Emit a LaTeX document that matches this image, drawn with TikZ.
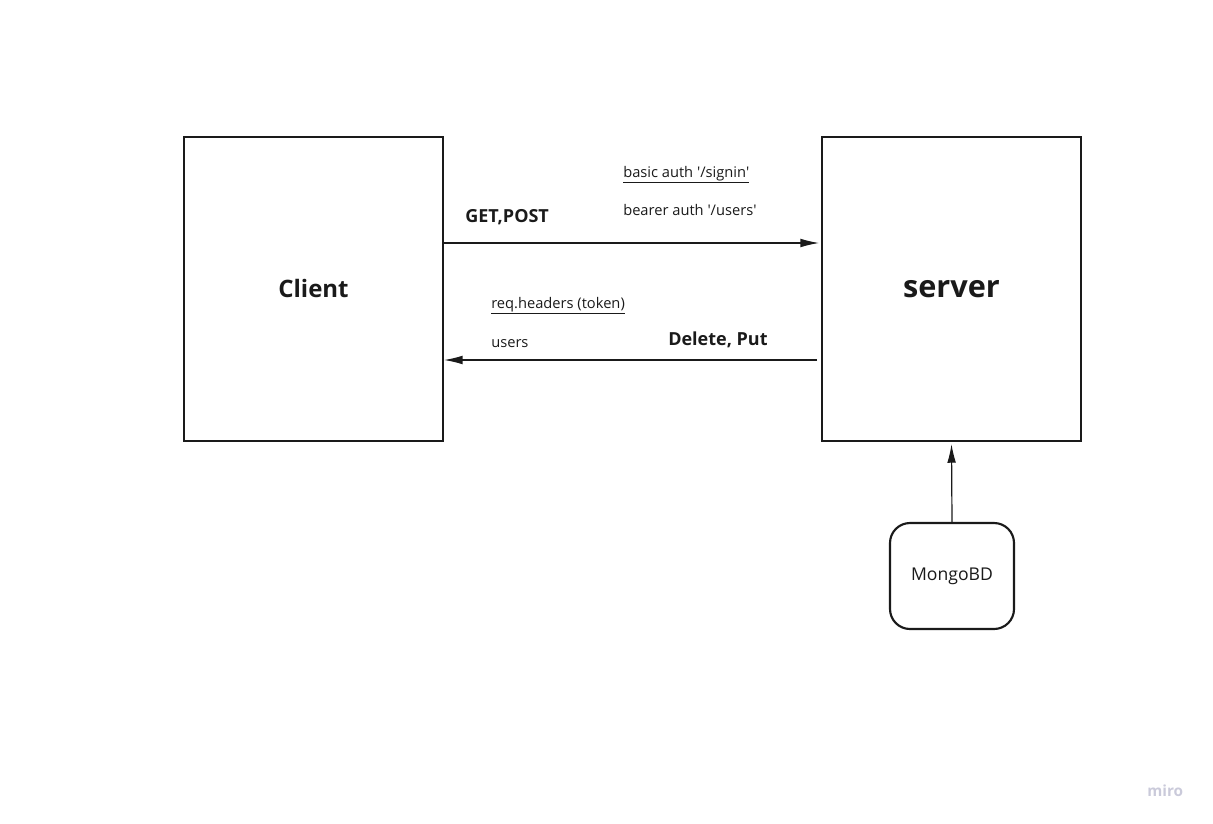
\documentclass[tikz,border=0pt]{standalone}
\usepackage{fontspec}
\setmainfont{Open Sans}[Ligatures=TeXOff]
\usepackage{tikz}
\usepackage{xcolor}
\usetikzlibrary{arrows.meta}
\definecolor{ink}{HTML}{1A1A1A}
\definecolor{wmark}{HTML}{CACADA}

\begin{document}
\begin{tikzpicture}[x=0.75pt, y=-0.75pt,
  box/.style={draw=ink, line width=1.6pt, inner sep=0pt, text=ink},
  arr/.style={draw=ink, line width=0.9pt, -{Latex[length=14pt, width=6.5pt]}},
  lbl/.style={anchor=base west, inner sep=0pt, text=ink, font=\fontsize{11}{13}\selectfont},
  blbl/.style={anchor=base west, inner sep=0pt, text=ink, font=\fontsize{13.5}{16}\selectfont\bfseries}]
\useasboundingbox (0,0) rectangle (1213,824);
\node[box, minimum width=194pt, minimum height=228pt, font=\fontsize{18}{22}\selectfont\bfseries] (client) at (313.5,289) {\raisebox{1.5pt}{Client}};
\node[box, minimum width=194pt, minimum height=228pt, font=\fontsize{23}{28}\selectfont\bfseries] (server) at (951.5,289) {server};
\node[box, rounded corners=15pt, minimum width=93pt, minimum height=79.5pt, font=\fontsize{13.2}{16}\selectfont] (mongo) at (952,576) {MongoBD};

\draw[arr] ([yshift=34.5pt]client.east) -- ([yshift=34.5pt, xshift=-1.5pt]server.west);
\draw[arr] ([yshift=-53.25pt, xshift=-3pt]server.west) -- ([yshift=-53.25pt]client.east);
\draw[arr] (mongo.north) -- ([yshift=-1.5pt]server.south);

\node[blbl] (getpost) at (465,222) {GET,POST};
\node[lbl] (signin) at (623,177) {\underline{basic auth '/signin'}};
\node[lbl] (bearer) at (623,215) {bearer auth '/users'};
\node[lbl] (headers) at (491,308) {\underline{req.headers (token)}};
\node[lbl] (users) at (491,347) {users};
\node[blbl] (delput) at (668,345) {Delete, Put};

\node[anchor=base west, inner sep=0pt, text=wmark, font=\fontsize{11.5}{14}\selectfont\bfseries] (miro) at (1147,796) {miro};
\end{tikzpicture}
\end{document}
